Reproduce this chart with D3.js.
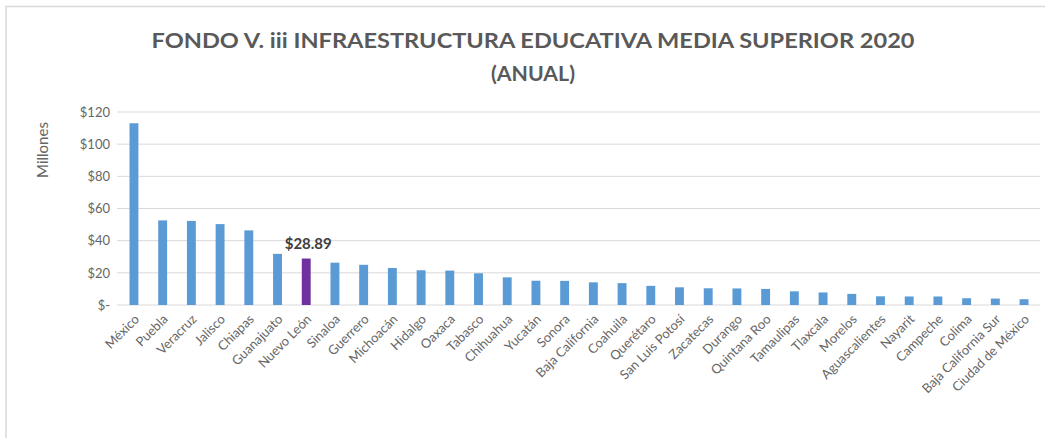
<!DOCTYPE html>
<html lang="es">
<head>
    <meta charset="UTF-8">
    <title>Fondo V. iii</title>
    <script src="https://cdnjs.cloudflare.com/ajax/libs/d3/7.8.5/d3.min.js"></script>
    <style>
        body { margin: 0; background: #fff; }
        text { font-family: Lato, "Open Sans", sans-serif; }
    </style>
</head>
<body>
    <div id="chart"></div>
    <script>
        var w = 1045;
        var h = 438;

        // estados, ordenados de mayor a menor
        var estados = [
            "México", "Puebla", "Veracruz", "Jalisco", "Chiapas", "Guanajuato",
            "Nuevo León", "Sinaloa", "Guerrero", "Michoacán", "Hidalgo", "Oaxaca",
            "Tabasco", "Chihuahua", "Yucatán", "Sonora", "Baja California", "Coahuila",
            "Querétaro", "San Luis Potosí", "Zacatecas", "Durango", "Quintana Roo",
            "Tamaulipas", "Tlaxcala", "Morelos", "Aguascalientes", "Nayarit",
            "Campeche", "Colima", "Baja California Sur", "Ciudad de México"
        ];
        // millones de pesos
        var montos = [
            113.0, 52.6, 52.3, 50.3, 46.4, 31.8,
            28.89, 26.3, 25.0, 23.0, 21.6, 21.4,
            19.7, 17.2, 15.1, 15.0, 14.1, 13.6,
            11.9, 11.0, 10.4, 10.3, 10.0,
            8.5, 7.8, 6.9, 5.4, 5.3,
            5.3, 4.2, 4.0, 3.6
        ];
        var yTicks = [0, 20, 40, 60, 80, 100, 120];
        var destacado = "Nuevo León";

        var svg = d3.select("#chart").append("svg")
            .attr("width", w)
            .attr("height", h);

        // marco del gráfico
        svg.append("path")
            .attr("d", "M6,440 V6.5 H1050")
            .attr("fill", "none")
            .attr("stroke", "#d9d9d9")
            .attr("stroke-width", 1.5);

        var x = d3.scaleBand()
            .domain(estados)
            .range([119.6, 1038.4])
            .paddingInner(0.69)
            .paddingOuter(0.345);

        var y = d3.scaleLinear()
            .domain([0, 120])
            .range([305, 112]);

        // cuadrícula
        svg.append("g")
            .selectAll("line")
            .data(yTicks)
            .enter()
            .append("line")
            .attr("x1", 117)
            .attr("x2", 1040)
            .attr("y1", function (d) { return y(d); })
            .attr("y2", function (d) { return y(d); })
            .attr("stroke", "#d9d9d9")
            .attr("stroke-width", 1);

        // eje y
        var yAxis = d3.axisLeft(y)
            .tickValues(yTicks)
            .tickSize(0)
            .tickPadding(0)
            .tickFormat(function (d) { return d === 0 ? "$-" : "$" + d; });

        var gy = svg.append("g")
            .attr("transform", "translate(110,0)")
            .call(yAxis);
        gy.select(".domain").remove();
        gy.selectAll("text")
            .attr("fill", "#666666")
            .attr("font-size", "13px")
            .attr("font-family", "Lato, sans-serif");

        // eje x
        var xAxis = d3.axisBottom(x).tickSize(0).tickPadding(0);
        var gx = svg.append("g")
            .attr("transform", "translate(0,305)")
            .call(xAxis);
        gx.select(".domain").remove();
        gx.selectAll("text")
            .attr("fill", "#666666")
            .attr("font-size", "13px")
            .attr("font-family", "Lato, sans-serif")
            .attr("text-anchor", "end")
            .attr("dy", "0")
            .attr("transform", "translate(6,15) rotate(-45)");

        // barras
        svg.selectAll("rect.bar")
            .data(montos)
            .enter()
            .append("rect")
            .attr("class", "bar")
            .attr("x", function (d, i) { return x(estados[i]); })
            .attr("y", function (d) { return y(d); })
            .attr("width", x.bandwidth())
            .attr("height", function (d) { return y(0) - y(d); })
            .attr("fill", function (d, i) {
                return estados[i] === destacado ? "#7030a0" : "#5b9bd5";
            });

        // etiqueta del estado destacado
        var iDest = estados.indexOf(destacado);
        svg.append("text")
            .attr("x", x(destacado) + x.bandwidth() / 2 + 2)
            .attr("y", y(montos[iDest]) - 10)
            .attr("text-anchor", "middle")
            .attr("font-size", "15px")
            .attr("font-weight", "bold")
            .attr("fill", "#404040")
            .text("$" + montos[iDest].toFixed(2));

        // título del eje
        svg.append("text")
            .attr("transform", "translate(48,150) rotate(-90)")
            .attr("text-anchor", "middle")
            .attr("font-size", "15px")
            .attr("fill", "#666666")
            .text("Millones");

        // título
        var titulo = svg.append("text")
            .attr("text-anchor", "middle")
            .attr("font-size", "21px")
            .attr("font-weight", "bold")
            .attr("fill", "#595959");
        titulo.append("tspan")
            .attr("x", 533)
            .attr("y", 48)
            .attr("textLength", 763)
            .attr("lengthAdjust", "spacingAndGlyphs")
            .text("FONDO V. iii INFRAESTRUCTURA EDUCATIVA MEDIA SUPERIOR 2020");
        titulo.append("tspan")
            .attr("x", 533)
            .attr("y", 81)
            .attr("textLength", 84)
            .attr("lengthAdjust", "spacingAndGlyphs")
            .text("(ANUAL)");
    </script>
</body>
</html>
